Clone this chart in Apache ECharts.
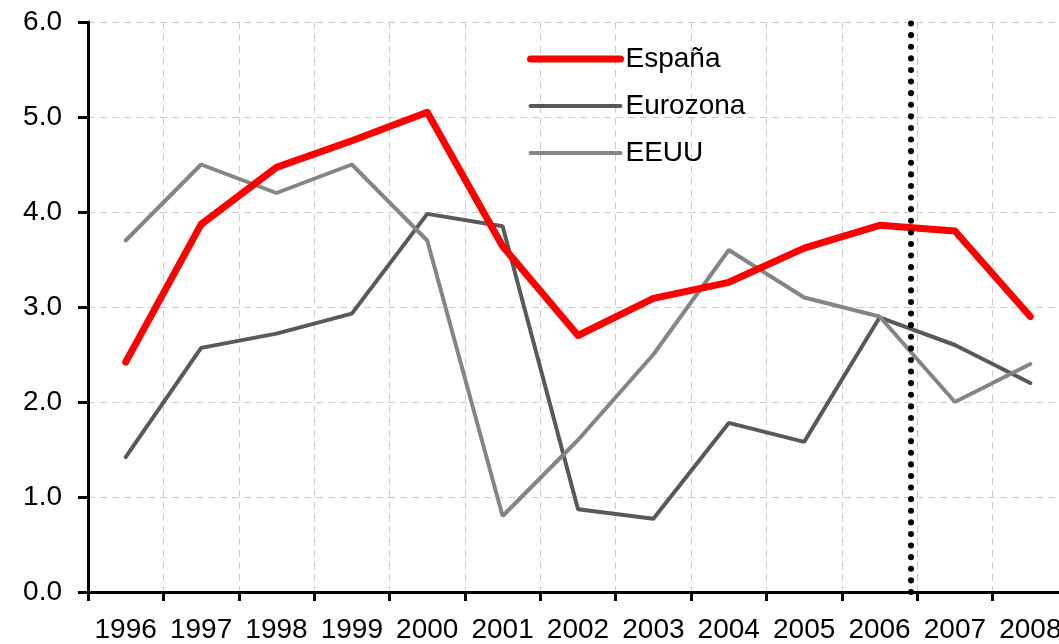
<!DOCTYPE html>
<html>
<head>
<meta charset="utf-8">
<script src="https://cdn.jsdelivr.net/npm/echarts@6/dist/echarts.min.js"></script>
<style>
  html, body { margin: 0; padding: 0; background: #fff; }
  #chart { width: 1059px; height: 644px; }
</style>
</head>
<body>
<div id="chart"></div>
<script>
// años
const years = ['1996', '1997', '1998', '1999', '2000', '2001', '2002', '2003', '2004', '2005', '2006', '2007', '2008']
const espana = [2.42, 3.87, 4.47, 4.75, 5.05, 3.64, 2.70, 3.09, 3.26, 3.62, 3.86, 3.80, 2.90]
const eurozona = [1.42, 2.57, 2.72, 2.93, 3.98, 3.85, 0.87, 0.77, 1.78, 1.58, 2.89, 2.60, 2.20]
const eeuu = [3.70, 4.50, 4.20, 4.50, 3.70, 0.80, 1.60, 2.50, 3.60, 3.10, 2.90, 2.00, 2.40]
const yTicks = [0, 1, 2, 3, 4, 5, 6]
// separación previsión (posición en índice de categoría)
const forecastStart = 10.42

const chart = echarts.init(document.getElementById('chart'))
const font = 'Liberation Sans, Arial, sans-serif'

const option = {
    animation: false,
    textStyle: { fontFamily: font },
    grid: {
        left: 88,
        right: -9,
        top: 22,
        bottom: 52,
        containLabel: false,
        outerBoundsMode: 'none',
    },
    legend: {
        orient: 'vertical',
        left: 522,
        top: 40,
        itemWidth: 90,
        itemHeight: 14,
        itemGap: 19,
        itemStyle: { opacity: 0 },
        lineStyle: { width: 'inherit', cap: 'round' },
        textStyle: {
            fontSize: 28,
            color: '#000',
        },
        data: ['España', 'Eurozona', 'EEUU'],
    },
    xAxis: [{
        type: 'category',
        data: years,
        boundaryGap: true,
        axisLine: { onZero: false, lineStyle: { color: '#000', width: 3 } },
        axisTick: { show: true, length: 9, lineStyle: { color: '#000', width: 3 } },
        axisLabel: { fontSize: 28, color: '#000', margin: 24, interval: 0 },
        splitLine: { show: true, lineStyle: { color: '#cccccc', width: 1, type: [7, 5] } },
    }, {
        type: 'value',
        show: false,
        min: -0.5,
        max: years.length - 0.5,
    }],
    yAxis: {
        type: 'value',
        min: yTicks[0],
        max: yTicks[yTicks.length - 1],
        interval: 1,
        axisLine: { show: true, onZero: false, lineStyle: { color: '#000', width: 3 } },
        axisTick: { show: true, length: 10, lineStyle: { color: '#000', width: 3 } },
        axisLabel: {
            fontSize: 28,
            color: '#000',
            margin: 26,
            formatter: (v) => v.toFixed(1),
        },
        splitLine: { lineStyle: { color: '#cccccc', width: 1, type: [7, 5] } },
    },
    series: [{
        name: 'Eurozona',
        type: 'line',
        data: eurozona,
        symbol: 'none',
        itemStyle: { color: '#595959' },
        lineStyle: { color: '#595959', width: 4, cap: 'round' },
    }, {
        name: 'EEUU',
        type: 'line',
        data: eeuu,
        symbol: 'none',
        itemStyle: { color: '#858585' },
        lineStyle: { color: '#858585', width: 4, cap: 'round' },
    }, {
        name: 'España',
        type: 'line',
        data: espana,
        symbol: 'none',
        itemStyle: { color: '#ff0000' },
        lineStyle: { color: '#ff0000', width: 7, cap: 'round', join: 'round' },
    }, {
        name: 'prevision',
        type: 'line',
        xAxisIndex: 1,
        data: [],
        silent: true,
        markLine: {
            silent: true,
            symbol: ['none', 'none'],
            label: { show: false },
            lineStyle: { color: '#000', width: 6, type: [0.1, 11.5], cap: 'round' },
            emphasis: { disabled: true },
            data: [{ xAxis: forecastStart }],
        },
    }],
}

chart.setOption(option)
</script>
</body>
</html>
